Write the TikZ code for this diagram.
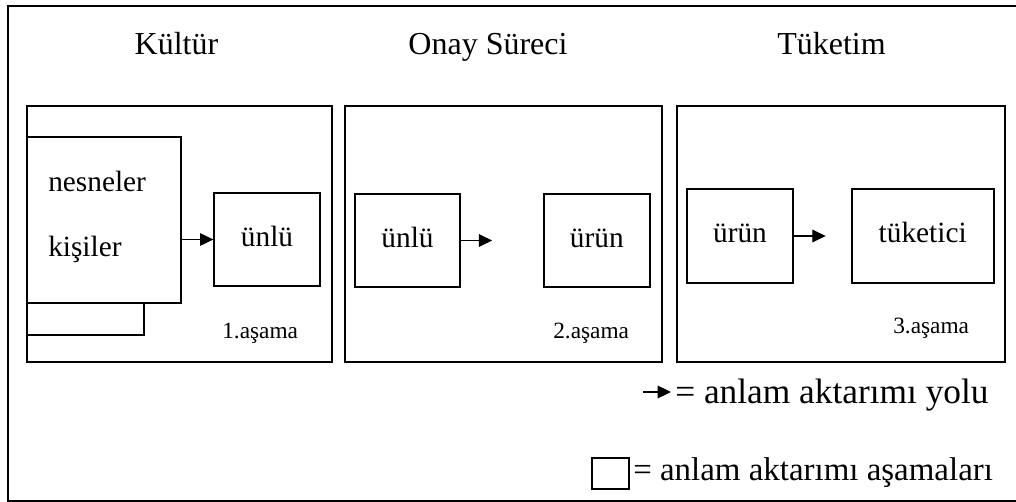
\documentclass[tikz,border=0pt]{standalone}
\usepackage{fontspec}
\setmainfont{Liberation Serif}
\usetikzlibrary{arrows.meta,positioning}

\begin{document}
\begin{tikzpicture}[
  x=0.75pt, y=-0.75pt,
  panel/.style={rectangle, draw, line width=1.5pt, minimum height=192pt},
  box/.style={rectangle, draw, line width=1.5pt, fill=white, inner sep=0pt, minimum width=79pt, minimum height=70pt, text height=15pt, text depth=4.5pt, font=\fontsize{22}{26}\selectfont},
  title/.style={anchor=base, inner sep=0pt, font=\fontsize{24}{28}\selectfont},
  stage/.style={anchor=base west, inner sep=0pt, font=\fontsize{17.5}{20}\selectfont},
  item/.style={anchor=base west, inner sep=0pt, font=\fontsize{22}{26}\selectfont},
  legend/.style={anchor=base west, inner sep=0pt},
  arrow/.style={-{Triangle[length=10pt,width=9.5pt]}, line width=0.8pt}
]
  \useasboundingbox (0,0) rectangle (1016,502);
  \draw[line width=1.5pt] (8,6) rectangle (1024,501);

  % headings
  \node[title] (kultur) at (176.5,55) {Kültür};
  \node[title] (onay) at (488,55) {Onay Süreci};
  \node[title] (tuketim) at (831.5,55) {Tüketim};

  % 1. asama
  \node[panel, minimum width=228.75pt] (p1) at (179.5,234) {};
  \node[box, minimum width=87.75pt, minimum height=131.25pt] (back) at (85.5,247.5) {};
  \node[box, minimum width=115.5pt, minimum height=124.5pt] (front) at (104,220) {};
  \node[item] (nesneler) at (48,192) {nesneler};
  \node[item] (kisiler) at (48,257) {kişiler};
  \node[box] (unlu1) at (267,239.5) {ünlü};
  \node[stage] (s1) at (222,338) {1.aşama};
  \draw[arrow] (front.east |- unlu1.west) -- (unlu1.west);

  % 2. asama
  \node[panel, minimum width=237.75pt] (p2) at (503.5,234) {};
  \node[box] (unlu2) at (407.5,240.5) {ünlü};
  \node[box, right=61.5pt of unlu2] (urun2) {ürün};
  \node[stage] (s2) at (553,338) {2.aşama};
  \coordinate[right=23.25pt of unlu2.east] (a2);
  \draw[arrow] (unlu2.east) -- (a2);

  % 3. asama
  \node[panel, minimum width=246pt] (p3) at (841,234) {};
  \node[box] (urun3) at (740,236) {ürün};
  \node[box, minimum width=106.5pt, right=42.75pt of urun3] (tuketici) {tüketici};
  \node[stage] (s3) at (893,333) {3.aşama};
  \coordinate[right=24pt of urun3.east] (a3);
  \draw[arrow] (urun3.east) -- (a3);

  % legend
  \coordinate (l1) at (643,392);
  \node[legend, font=\fontsize{26.5}{30}\selectfont] (yolu) at (675,403) {= anlam aktarımı yolu};
  \draw[arrow, shorten >=3pt] (l1) -- (l1 -| yolu.west);
  \node[rectangle, draw, line width=1.5pt, minimum width=27.75pt, minimum height=23.25pt] (lbox) at (610.5,473.5) {};
  \node[legend, font=\fontsize{24.7}{28}\selectfont] (asamalar) at (633,480) {= anlam aktarımı aşamaları};
\end{tikzpicture}
\end{document}
